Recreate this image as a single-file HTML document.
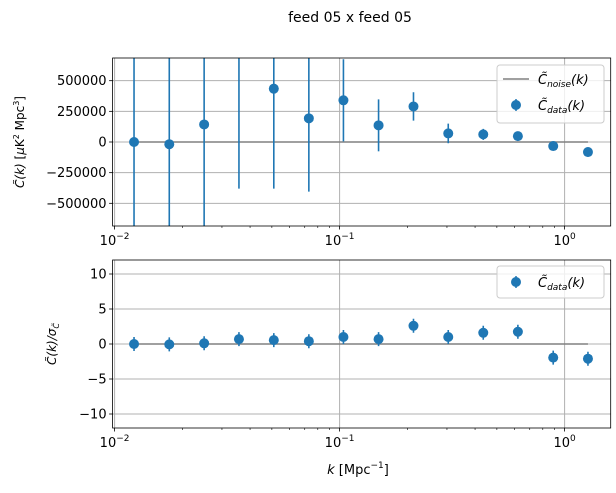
<!DOCTYPE html>
<html><head><meta charset="utf-8"><style>
body{margin:0;background:#fff}
svg{display:block;font-family:"DejaVu Sans","Liberation Sans",sans-serif}
</style></head><body>
<svg id="c" width="616" height="493" xmlns="http://www.w3.org/2000/svg">
<text x="350" y="22" font-size="14" text-anchor="middle">feed 05 x feed 05</text>
</svg>
<script>
const kValues=[0.0122,0.0175,0.025,0.0357,0.051,0.073,0.104,0.149,0.213,0.304,0.435,0.62,0.89,1.27];
const powerValues=[0,-18000,143000,890000,435000,193000,340000,136000,290000,70000,62000,48000,-33000,-82000];
const powerErrors=[1100000,1100000,1400000,1270000,815000,598000,335000,212000,116000,80000,45000,28000,16000,38000];
const ratioValues=[0,-0.05,0.1,0.7,0.55,0.4,1.0,0.7,2.6,1.0,1.6,1.75,-1.95,-2.1];
const ratioErrors=[1,1,1,1,1,1,1,1,1,1,1,1,1,1];
const topTicks=[500000,250000,0,-250000,-500000];
const topTickLabels=["500000","250000","0","\u2212250000","\u2212500000"];
const botTicks=[10,5,0,-5,-10];
const botTickLabels=["10","5","0","\u22125","\u221210"];
const xDecades=[0.01,0.1,1];

const NS="http://www.w3.org/2000/svg";
const svg=document.getElementById('c');
function el(t,a,p){const e=document.createElementNS(NS,t);for(const k in a)e.setAttribute(k,a[k]);(p||svg).appendChild(e);return e;}
const X0=112.6,X1=610.7;
function xs(k){return 114.6+(Math.log10(k)+2)*225;}
function panel(top,bot,ymax,vals,errs,ticks,labels,name){
  const ys=v=>(top+bot)/2-v/ymax*(bot-top)/2;
  const g=el('g',{});
  
  
  xDecades.forEach(d=>{const l=el('line',{x1:xs(d),x2:xs(d),y1:top,y2:bot,stroke:'#b0b0b0','stroke-width':1},g);
    });
  ticks.forEach((t,i)=>{const y=ys(t);
    const l=el('line',{x1:X0,x2:X1,y1:y,y2:y,stroke:'#b0b0b0','stroke-width':1},g);
    
    el('line',{x1:X0-3.5,x2:X0,y1:y,y2:y,stroke:'#000','stroke-width':0.8},g);
    const tx=el('text',{x:X0-6,y:y+4.5,'font-size':13,'text-anchor':'end'},g);tx.textContent=labels[i];
    });
  for(let d=-2;d<=0;d++){for(let m=1;m<10;m++){const k=m*Math.pow(10,d);const x=xs(k);if(x<X0||x>X1)continue;
    el('line',{x1:x,x2:x,y1:bot,y2:bot+(m==1?3.5:2),stroke:'#000','stroke-width':m==1?0.8:0.6},g);}}
  xDecades.forEach((d,i)=>{const tx=el('text',{x:xs(d),y:bot+19,'font-size':13,'text-anchor':'middle'},g);
    tx.innerHTML=(i<2?'10<tspan dy="-6" font-size="9">\u2212'+(2-i)+'</tspan>':'10<tspan dy="-6" font-size="9">0</tspan>');
    });
  const nl=el('line',{x1:xs(kValues[0]),x2:xs(kValues[kValues.length-1]),y1:ys(0),y2:ys(0),stroke:'#808080','stroke-width':1.5},g);
  
  const cp=el('clipPath',{id:'cp'+name},g);el('rect',{x:X0,y:top,width:X1-X0,height:bot-top},cp);
  const dg=el('g',{'clip-path':'url(#cp'+name+')'},g);
  vals.forEach((v,i)=>{const x=xs(kValues[i]);
    const eb=el('line',{x1:x,x2:x,y1:ys(v+errs[i]),y2:ys(v-errs[i]),stroke:'#1f77b4','stroke-width':1.6},dg);
    
    const c=el('circle',{cx:x,cy:ys(v),r:5,fill:'#1f77b4'},dg);
    });
  el('rect',{x:X0,y:top,width:X1-X0,height:bot-top,fill:'none',stroke:'#000','stroke-width':0.8},g);
}
panel(58,226,685000,powerValues,powerErrors,topTicks,topTickLabels,'power');
panel(260,428,12,ratioValues,ratioErrors,botTicks,botTickLabels,'ratio');

function legend(y,h,withNoise){
  const g=el('g',{});
  
  el('rect',{x:497,y:y,width:107,height:h,rx:3,fill:'#fff','fill-opacity':0.8,stroke:'#ccc'},g);
  let yy=y+14;
  if(withNoise){el('line',{x1:503,x2:529,y1:yy,y2:yy,stroke:'#808080','stroke-width':1.5},g);
    const t=el('text',{x:538,y:yy+5,'font-size':13},g);t.innerHTML='<tspan font-style="italic">C̃</tspan><tspan font-size="9" dy="3" font-style="italic">noise</tspan><tspan dy="-3" font-style="italic">(k)</tspan>';
    yy+=26;}
  else yy+=2;
  el('line',{x1:516,x2:516,y1:yy-6,y2:yy+6,stroke:'#1f77b4','stroke-width':1.5},g);
  el('circle',{cx:516,cy:yy,r:5,fill:'#1f77b4'},g);
  const t2=el('text',{x:538,y:yy+5,'font-size':13},g);t2.innerHTML='<tspan font-style="italic">C̃</tspan><tspan font-size="9" dy="3" font-style="italic">data</tspan><tspan dy="-3" font-style="italic">(k)</tspan>';
  
}
legend(65,58,true);
legend(266,32,false);

let t=el('text',{transform:'translate(24,142) rotate(-90)','font-size':12,'text-anchor':'middle'});
t.innerHTML='<tspan font-style="italic">C̃(k)</tspan> [<tspan font-style="italic">μ</tspan>K<tspan dy="-5" font-size="8">2</tspan><tspan dy="5"> Mpc</tspan><tspan dy="-5" font-size="8">3</tspan><tspan dy="5">]</tspan>';

t=el('text',{transform:'translate(56,344) rotate(-90)','font-size':12,'text-anchor':'middle'});
t.innerHTML='<tspan font-style="italic">C̃(k)/σ</tspan><tspan font-size="8" dy="3" font-style="italic">C̃</tspan>';

t=el('text',{x:358,y:474,'font-size':13,'text-anchor':'middle'});
t.innerHTML='<tspan font-style="italic">k</tspan> [Mpc<tspan dy="-6" font-size="9">−1</tspan><tspan dy="6">]</tspan>';

</script>
</body></html>
